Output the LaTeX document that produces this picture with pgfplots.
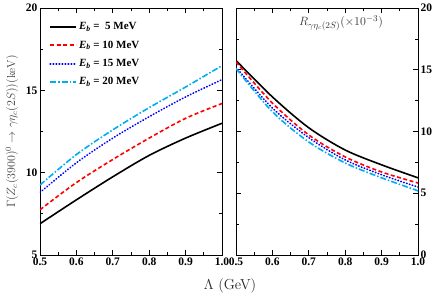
\documentclass[border=0pt]{standalone}
\usepackage{pgfplots}
\pgfplotsset{compat=1.18}
\usepackage{fontspec}
\newfontfamily\tnr{Liberation Serif}
\begin{document}
\begin{tikzpicture}
\pgfplotsset{
  every axis/.append style={
    scale only axis, width=182pt, height=247pt,
    xmin=0.5, xmax=1.0,
    xtick={0.5,0.6,...,1.0},
    minor x tick num=1,
    minor y tick num=1,
    tick align=inside,
    tick style={black, line width=0.7pt},
    major tick length=5pt, minor tick length=3pt,
    axis line style={line width=0.9pt},
    /pgf/number format/assume math mode=true,
    /pgf/number format/fixed, /pgf/number format/fixed zerofill,
    /pgf/number format/precision=1,
    tick label style={font=\tnr\bfseries\fontsize{11.5}{12}\selectfont},
    xticklabel style={yshift=1pt},
  },
  l1/.style={black, line width=1.6pt, smooth},
  l2/.style={red, line width=1.6pt, dash pattern=on 4pt off 2.5pt, smooth},
  l3/.style={color=blue, line width=1.7pt, line cap=round, dash pattern=on 0.5pt off 2.5pt, smooth},
  l4/.style={cyan, line width=1.6pt, dash pattern=on 6pt off 2pt on 1.5pt off 2pt, smooth},
}
\begin{axis}[
  name=left,
  ymin=5, ymax=20, ytick={5,10,15,20},
  yticklabel style={/pgf/number format/precision=0, xshift=1pt},
  ylabel={$\Gamma(Z_c(3900)^0\to\gamma\eta_c(2S))(\mathrm{keV})$},
  ylabel style={at={(axis description cs:-0.154,0.5)}, anchor=center, font=\fontsize{11.5}{13}\selectfont, text=black!75},
  legend style={draw=none, fill=none, at={(0.05,0.95)}, anchor=north west,
    font=\tnr\bfseries\fontsize{11}{12}\selectfont, row sep=5.6pt, inner sep=0pt,
    /tikz/every even column/.append style={column sep=3pt}},
  legend cell align=left,
  legend image code/.code={\draw[#1] (0cm,0cm) -- (26pt,0cm);},
]
\addplot[l1] coordinates {(0.5,6.9) (0.6,8.35) (0.7,9.75) (0.8,11.05) (0.9,12.1) (1.0,13.0)};
\addlegendentry{\textit{E}\textsubscript{\textit{b}} =\ \ 5 MeV}
\addplot[l2] coordinates {(0.5,7.75) (0.6,9.4) (0.7,10.8) (0.8,12.1) (0.9,13.3) (1.0,14.2)};
\addlegendentry{\textit{E}\textsubscript{\textit{b}} = 10 MeV}
\addplot[l3] coordinates {(0.5,8.8) (0.6,10.6) (0.7,12.1) (0.8,13.4) (0.9,14.6) (1.0,15.65)};
\addlegendentry{\textit{E}\textsubscript{\textit{b}} = 15 MeV}
\addplot[l4] coordinates {(0.5,9.25) (0.6,11.1) (0.7,12.6) (0.8,13.95) (0.9,15.2) (1.0,16.5)};
\addlegendentry{\textit{E}\textsubscript{\textit{b}} = 20 MeV}
\end{axis}
\begin{axis}[
  at={(196pt,0pt)},
  ymin=0, ymax=20, ytick={0,5,10,15,20},
  yticklabel pos=right,
  yticklabel style={/pgf/number format/precision=0, xshift=-1pt},
  xlabel={$\Lambda$ (GeV)},
  xlabel style={at={(axis description cs:-0.033,0)}, anchor=center, yshift=-31pt, font=\fontsize{14.5}{16}\selectfont, text=black!85},
]
\addplot[l1] coordinates {(0.5,15.75) (0.6,12.8) (0.7,10.3) (0.8,8.5) (0.9,7.3) (1.0,6.25)};
\addplot[l2] coordinates {(0.5,15.63) (0.6,12.3) (0.7,9.72) (0.8,7.94) (0.9,6.72) (1.0,5.83)};
\addplot[l3] coordinates {(0.5,15.2) (0.6,11.9) (0.7,9.5) (0.8,7.7) (0.9,6.5) (1.0,5.5)};
\addplot[l4] coordinates {(0.5,15.1) (0.6,11.6) (0.7,9.15) (0.8,7.45) (0.9,6.25) (1.0,5.2)};
\node[anchor=center, text=black!80] at (rel axis cs:0.577,0.94) {\fontsize{12.5}{14}\selectfont$R_{\gamma\eta_c(2S)}(\times 10^{-3})$};
\end{axis}
\pgfresetboundingbox
\path (-40pt,-43pt) rectangle (396pt,255pt);
\end{tikzpicture}
\end{document}
